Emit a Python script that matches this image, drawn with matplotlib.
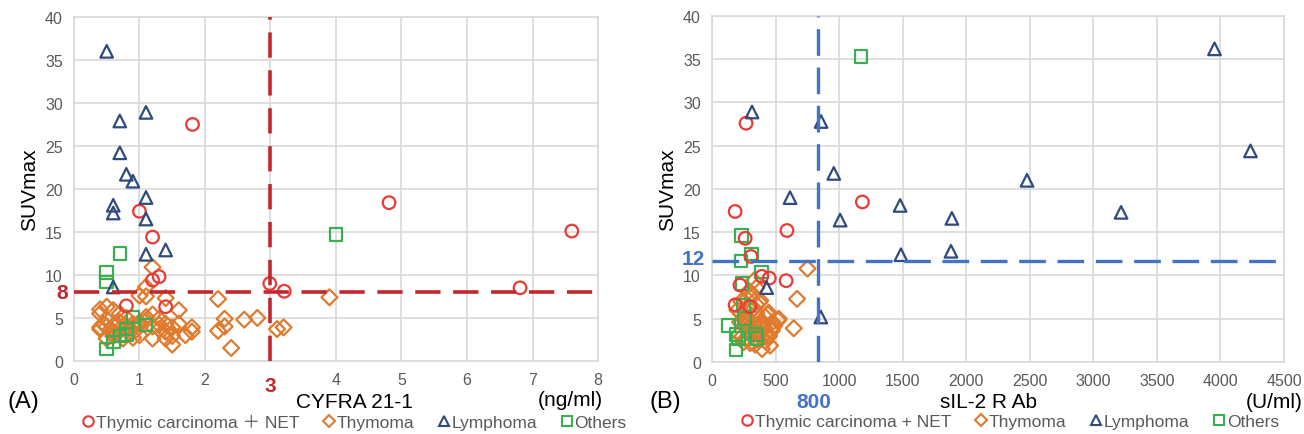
import numpy as np
import matplotlib
matplotlib.use("Agg")
import matplotlib.pyplot as plt
import matplotlib.transforms as mtransforms
from matplotlib.lines import Line2D

# ---- panel A: CYFRA 21-1 (ng/ml) vs SUVmax ----
a_carc_x = [1.81, 1.0, 1.2, 1.3, 1.2, 0.8, 1.4, 2.99, 3.21, 4.81, 6.81, 7.6]
a_carc_y = [27.5, 17.4, 14.4, 9.8, 9.4, 6.4, 6.3, 9.0, 8.1, 18.4, 8.5, 15.1]

a_thym_x = [1.2, 1.1, 1.0, 1.1, 1.4, 1.6, 2.2, 3.9, 2.3, 2.6, 2.8, 2.2, 2.3, 2.4,
            3.1, 3.2, 1.8, 1.8, 1.7, 1.5, 1.5, 1.5, 1.4, 1.2, 1.4, 1.3, 1.3, 1.3,
            1.1, 1.1, 1.0, 0.4, 0.4, 0.5, 0.6, 0.7, 0.4, 0.4, 0.5, 0.6, 0.6, 0.7,
            0.7, 0.5, 0.6, 0.8, 0.9, 1.0, 0.45, 0.55, 0.65, 0.75, 0.85, 0.95, 1.2,
            1.2, 0.8, 1.0, 0.9, 1.4, 1.6]
a_thym_y = [10.9, 8.6, 7.6, 7.5, 7.3, 5.9, 7.2, 7.4, 4.9, 4.8, 5.0, 3.5, 4.0, 1.5,
            3.7, 3.9, 3.9, 3.4, 3.0, 3.9, 2.9, 1.9, 2.6, 2.6, 4.3, 4.9, 4.2, 3.7,
            5.1, 4.7, 4.3, 6.0, 5.5, 6.3, 5.9, 5.5, 3.9, 3.7, 4.0, 4.1, 3.3, 4.5,
            3.7, 2.6, 2.9, 4.0, 4.3, 4.5, 4.3, 3.6, 3.1, 2.6, 3.3, 3.6, 4.0,
            5.4, 5.0, 3.0, 2.7, 3.4, 4.3]

a_lymph_x = [0.5, 0.7, 1.1, 0.7, 0.8, 0.9, 1.1, 0.6, 0.6, 1.1, 1.1, 1.4, 0.6]
a_lymph_y = [36.0, 27.9, 28.9, 24.2, 21.7, 20.9, 19.0, 18.1, 17.2, 16.5, 12.4, 12.9, 8.6]

a_oth_x = [4.0, 0.7, 0.5, 0.5, 0.9, 1.1, 0.8, 0.8, 0.7, 0.6, 0.5]
a_oth_y = [14.7, 12.5, 10.3, 9.2, 5.1, 4.2, 3.7, 3.1, 2.9, 2.2, 1.4]

a_cut_x = 3
a_cut_y = 8

# ---- panel B: sIL-2 R Ab (U/ml) vs SUVmax ----
b_carc_x = [268, 1183, 590, 182, 261, 307, 392, 451, 583, 220, 182, 299]
b_carc_y = [27.6, 18.5, 15.2, 17.4, 14.3, 12.2, 9.9, 9.7, 9.4, 8.9, 6.6, 6.4]

b_thym_x = [751, 669, 643, 349, 380, 446, 525, 476, 315, 276, 433, 394, 457,
            200, 230, 250, 260, 280, 300, 320, 340, 360, 380, 400, 420, 440,
            210, 240, 270, 290, 310, 330, 350, 370, 410, 430, 470, 490, 520,
            220, 260, 290, 330, 360, 390, 420, 450, 480, 230, 280, 320, 350,
            250, 300, 340, 380, 410, 290, 330]
b_thym_y = [10.8, 7.3, 3.9, 8.6, 7.1, 5.7, 5.0, 4.6, 7.9, 7.3, 3.0, 1.5, 1.9,
            6.0, 5.6, 5.2, 4.8, 4.4, 4.0, 3.6, 3.4, 3.8, 4.2, 4.6, 5.2, 5.5,
            3.2, 3.0, 2.8, 3.4, 5.9, 6.2, 6.6, 6.9, 4.0, 3.4, 3.6, 4.2, 4.8,
            4.6, 4.3, 5.0, 4.4, 2.6, 2.9, 2.4, 3.0, 4.0, 7.0, 6.4, 7.6, 5.6,
            2.3, 2.2, 2.0, 3.2, 3.9, 8.2, 9.4]

b_lymph_x = [315, 858, 958, 614, 1008, 1480, 1887, 2478, 3218, 1486, 1880, 3953, 4236, 856, 430]
b_lymph_y = [28.9, 27.8, 21.8, 19.0, 16.4, 18.1, 16.6, 21.0, 17.3, 12.4, 12.8, 36.2, 24.4, 5.2, 8.6]

b_oth_x = [1171, 234, 313, 228, 388, 236, 249, 254, 131, 189, 210, 341, 354, 189]
b_oth_y = [35.3, 14.6, 12.5, 11.7, 10.4, 9.1, 6.5, 5.0, 4.2, 3.2, 2.7, 3.2, 2.7, 1.4]

b_cut_x = 835
b_cut_y = 11.7

legend_a = ["Thymic carcinoma \uff0b NET", "Thymoma", "Lymphoma", "Others"]
legend_b = ["Thymic carcinoma + NET", "Thymoma", "Lymphoma", "Others"]

RED = "#ea3a36"
ORANGE = "#e07b2e"
NAVY = "#2f4b7c"
GREEN = "#3bae52"
GRID = "#d9d9d9"
TXT = "#595959"

plt.rcParams['font.family'] = ['Liberation Sans', 'Noto Sans CJK JP', 'DejaVu Sans']

fig = plt.figure(figsize=(13.04, 4.35), dpi=100)
axA = fig.add_axes([0.0567, 0.168, 0.4019, 0.7908])
axB = fig.add_axes([0.546, 0.1655, 0.4387, 0.7955])

ms = 82
lw = 1.6


def draw(ax, carc, thym, lymph, oth):
    ax.scatter(thym[0], thym[1], s=ms * 0.8, marker='D', facecolors='none',
               edgecolors=ORANGE, linewidths=lw, zorder=3)
    ax.scatter(oth[0], oth[1], s=ms, marker='s', facecolors='none',
               edgecolors=GREEN, linewidths=lw, zorder=4)
    ax.scatter(carc[0], carc[1], s=ms, marker='o', facecolors='none',
               edgecolors=RED, linewidths=lw, zorder=5)
    ax.scatter(lymph[0], lymph[1], s=ms, marker='^', facecolors='none',
               edgecolors=NAVY, linewidths=lw, zorder=5)
    ax.set_ylim(0, 40)
    ax.set_yticks(range(0, 41, 5))
    ax.grid(True, color=GRID, linewidth=1.2)
    ax.set_axisbelow(True)
    for s in ax.spines.values():
        s.set_color(GRID)
        s.set_linewidth(1.2)
    ax.tick_params(length=0, labelsize=11.5, colors=TXT, pad=8)
    ax.set_ylabel("SUVmax", fontsize=15, color="black", labelpad=4)


draw(axA, (a_carc_x, a_carc_y), (a_thym_x, a_thym_y), (a_lymph_x, a_lymph_y), (a_oth_x, a_oth_y))
axA.set_xlim(0, 8)
axA.set_xticks(range(0, 9))
axA.set_xticklabels(["" if v == a_cut_x else str(v) for v in range(0, 9)])
axA.axvline(a_cut_x, color="#c1272d", linewidth=2.6, dashes=(7, 3.5), zorder=6)
axA.axhline(a_cut_y, color="#c1272d", linewidth=2.6, dashes=(7, 3.5), zorder=6)
tA = mtransforms.blended_transform_factory(axA.transAxes, axA.transData)
axA.text(-0.012, a_cut_y, str(a_cut_y), transform=tA, ha='right', va='center',
         fontsize=15, fontweight='bold', color="#c1272d")
tA2 = mtransforms.blended_transform_factory(axA.transData, axA.transAxes)
axA.text(a_cut_x, -0.045, str(a_cut_x), transform=tA2, ha='center', va='top',
         fontsize=15, fontweight='bold', color="#c1272d")

draw(axB, (b_carc_x, b_carc_y), (b_thym_x, b_thym_y), (b_lymph_x, b_lymph_y), (b_oth_x, b_oth_y))
axB.set_xlim(0, 4500)
axB.set_xticks(range(0, 4501, 500))
axB.axvline(b_cut_x, color="#4472c4", linewidth=2.4, dashes=(8, 3.5), zorder=6)
axB.axhline(b_cut_y, color="#4472c4", linewidth=2.4, dashes=(8, 3.5), zorder=6)
tB = mtransforms.blended_transform_factory(axB.transAxes, axB.transData)
axB.text(-0.012, 12, "12", transform=tB, ha='right', va='center',
         fontsize=15, fontweight='bold', color="#4472c4")
tB2 = mtransforms.blended_transform_factory(axB.transData, axB.transAxes)
axB.text(800, -0.088, "800", transform=tB2, ha='center', va='top',
         fontsize=15, fontweight='bold', color="#4472c4")

# labels under axes
fig.text(0.006, 0.075, "(A)", fontsize=17, va='center', ha='left')
fig.text(0.272, 0.075, "CYFRA 21-1", fontsize=15, va='center', ha='center')
fig.text(0.462, 0.08, "(ng/ml)", fontsize=15, va='center', ha='right')
fig.text(0.498, 0.075, "(B)", fontsize=17, va='center', ha='left')
fig.text(0.758, 0.075, "sIL-2 R Ab", fontsize=15, va='center', ha='center')
fig.text(0.999, 0.075, "(U/ml)", fontsize=15, va='center', ha='right')


def handles():
    kw = dict(linestyle='none', markerfacecolor='none', markeredgewidth=1.5, markersize=7.5)
    return [Line2D([], [], marker='o', markeredgecolor=RED, **kw),
            Line2D([], [], marker='D', markeredgecolor=ORANGE, **dict(kw, markersize=6)),
            Line2D([], [], marker='^', markeredgecolor=NAVY, **kw),
            Line2D([], [], marker='s', markeredgecolor=GREEN, **kw)]


for labels, cx in ((legend_a, 0.272), (legend_b, 0.775)):
    leg = fig.legend(handles(), labels, loc='center', bbox_to_anchor=(cx, 0.028), ncol=4,
                     frameon=False, fontsize=12.5, handlelength=0.6, handletextpad=0.15,
                     columnspacing=1.4, borderpad=0)
    for t in leg.get_texts():
        t.set_color(TXT)

fig.savefig("out.png", dpi=100)
